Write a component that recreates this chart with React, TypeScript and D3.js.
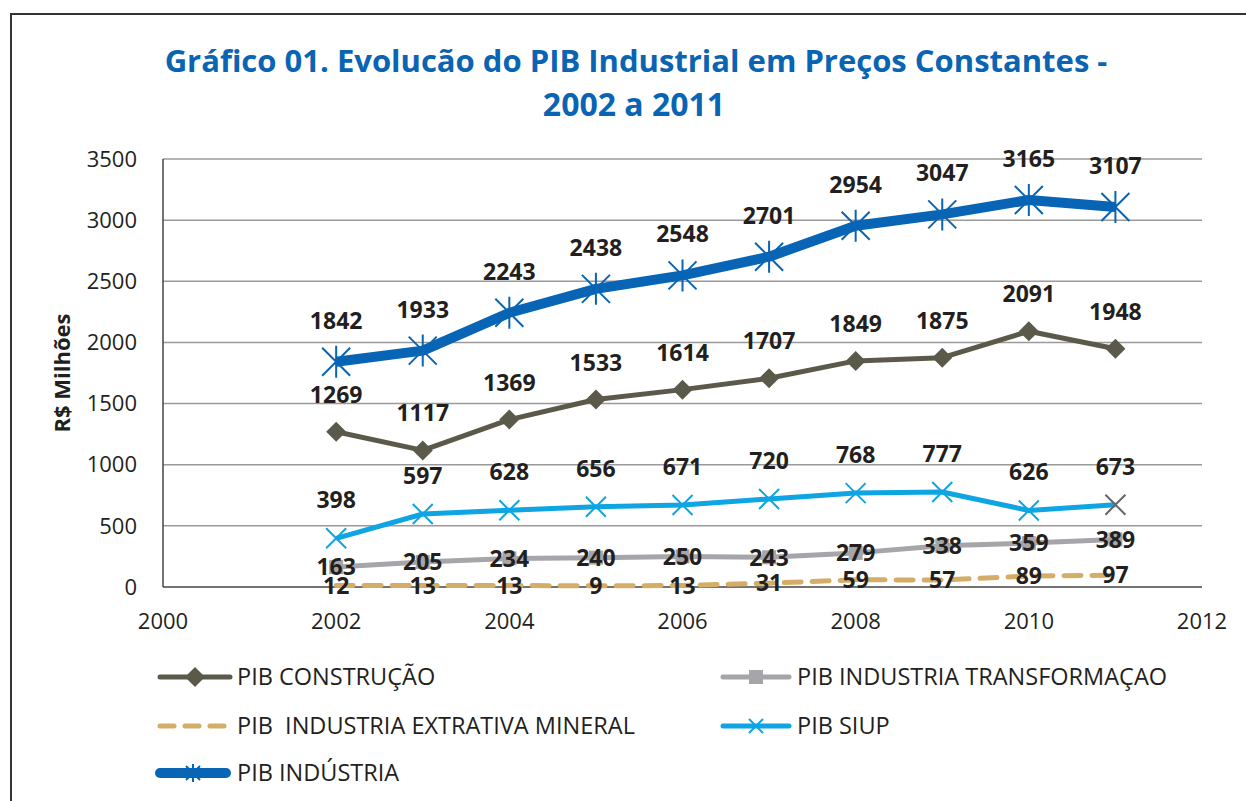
import * as d3 from 'd3'

const years = [2002, 2003, 2004, 2005, 2006, 2007, 2008, 2009, 2010, 2011]
const construcao = [1269, 1117, 1369, 1533, 1614, 1707, 1849, 1875, 2091, 1948]
const transformacao = [163, 205, 234, 240, 250, 243, 279, 338, 359, 389]
const extrativa = [12, 13, 13, 9, 13, 31, 59, 57, 89, 97]
const siup = [398, 597, 628, 656, 671, 720, 768, 777, 626, 673]
const industria = [1842, 1933, 2243, 2438, 2548, 2701, 2954, 3047, 3165, 3107]
const yTicks = [0, 500, 1000, 1500, 2000, 2500, 3000, 3500]
const xTicks = [2000, 2002, 2004, 2006, 2008, 2010, 2012]

const FONT = '"Open Sans", sans-serif'
const C_CONS = '#5b5a4a'
const C_TRANS = '#a6a6aa'
const C_EXTR = '#d4ad69'
const C_SIUP = '#0ea5e2'
const C_IND = '#0864b4'

const x = d3.scaleLinear().domain([2000, 2012]).range([163, 1202])
const y = d3.scaleLinear().domain([0, 3500]).range([587, 159])

const pts = (vals: number[]) => vals.map((v, i) => [x(years[i]), y(v)] as [number, number])
const line = d3.line<[number, number]>()

function Diamond({ cx, cy, r = 10 }: { cx: number; cy: number; r?: number }) {
  return <path d={`M${cx},${cy - r}L${cx + r},${cy}L${cx},${cy + r}L${cx - r},${cy}Z`} fill={C_CONS} />
}
function Square({ cx, cy, s = 14 }: { cx: number; cy: number; s?: number }) {
  return <rect x={cx - s / 2} y={cy - s / 2} width={s} height={s} fill={C_TRANS} />
}
function Cross({ cx, cy, r = 10, color }: { cx: number; cy: number; r?: number; color: string }) {
  return (
    <path d={`M${cx - r},${cy - r}L${cx + r},${cy + r}M${cx - r},${cy + r}L${cx + r},${cy - r}`}
      stroke={color} strokeWidth={2} fill="none" />
  )
}
function Star({ cx, cy, r = 14 }: { cx: number; cy: number; r?: number }) {
  return (
    <path d={`M${cx - r},${cy - r}L${cx + r},${cy + r}M${cx - r},${cy + r}L${cx + r},${cy - r}M${cx},${cy - r - 2}L${cx},${cy + r + 2}`}
      stroke={C_IND} strokeWidth={2} fill="none" />
  )
}

export default function App() {
  const lbl = { fontFamily: FONT, fontSize: 23, fontWeight: 700, fill: '#231f20', textAnchor: 'middle' as const }
  const legendText = { fontFamily: FONT, fontSize: 23.5, fill: '#231f20' }
  return (
    <svg width={1246} height={801} style={{ position: 'absolute', left: 0, top: 0, background: '#fff' }}>
      <rect x={11} y={14} width={1400} height={900} fill="none" stroke="#333" strokeWidth={2} />

      <text x={636} y={72} textAnchor="middle" fontFamily={FONT} fontSize={31} fontWeight={700} fill="#0a64b4">
        Gráfico 01. Evolucão do PIB Industrial em Preços Constantes -
      </text>
      <text x={634} y={116} textAnchor="middle" fontFamily={FONT} fontSize={32} fontWeight={700} fill="#0a64b4">
        2002 a 2011
      </text>

      {yTicks.map(t => (
        <g key={t}>
          {t > 0 && <line x1={x(2000)} x2={x(2012)} y1={y(t)} y2={y(t)} stroke="#9a9a9a" strokeWidth={1.5} />}
          <text x={137} y={y(t)} dy="0.35em" textAnchor="end" fontFamily={FONT} fontSize={22} fill="#231f20">{t}</text>
        </g>
      ))}
      <line x1={x(2000)} x2={x(2000)} y1={y(3500)} y2={y(0)} stroke="#444" strokeWidth={1.5} />
      <line x1={x(2000)} x2={x(2012)} y1={y(0)} y2={y(0)} stroke="#444" strokeWidth={1.5} />
      {xTicks.map(t => (
        <text key={t} x={x(t)} y={629} textAnchor="middle" fontFamily={FONT} fontSize={22} fill="#231f20">{t}</text>
      ))}
      <text transform="translate(70,373) rotate(-90)" textAnchor="middle" fontFamily={FONT} fontSize={22} fontWeight={700} fill="#231f20">
        R$ Milhões
      </text>

      {/* series */}
      <path d={line(pts(construcao)) || ''} fill="none" stroke={C_CONS} strokeWidth={5} strokeLinejoin="round" />
      {pts(construcao).map(([cx, cy], i) => <Diamond key={i} cx={cx} cy={cy} />)}

      <path d={line(pts(transformacao)) || ''} fill="none" stroke={C_TRANS} strokeWidth={5} strokeLinejoin="round" />
      {pts(transformacao).map(([cx, cy], i) => <Square key={i} cx={cx} cy={cy} />)}

      <path d={line(pts(extrativa)) || ''} fill="none" stroke={C_EXTR} strokeWidth={5} strokeDasharray="17 11" strokeLinecap="round" />

      <path d={line(pts(siup)) || ''} fill="none" stroke={C_SIUP} strokeWidth={5} strokeLinejoin="round" />
      {pts(siup).map(([cx, cy], i) => <Cross key={i} cx={cx} cy={cy} color={i === siup.length - 1 ? '#666' : C_SIUP} />)}

      <path d={line(pts(industria)) || ''} fill="none" stroke={C_IND} strokeWidth={10} strokeLinejoin="round" />
      {pts(industria).map(([cx, cy], i) => <Star key={i} cx={cx} cy={cy} />)}

      {/* data labels */}
      {pts(construcao).map(([cx, cy], i) => <text key={'c' + i} x={cx} y={cy - 29} {...lbl}>{construcao[i]}</text>)}
      {pts(transformacao).map(([cx, cy], i) => <text key={'t' + i} x={cx} y={cy} dy="0.36em" {...lbl}>{transformacao[i]}</text>)}
      {pts(extrativa).map(([cx, cy], i) => <text key={'e' + i} x={cx} y={cy} dy="0.36em" {...lbl}>{extrativa[i]}</text>)}
      {pts(siup).map(([cx, cy], i) => <text key={'s' + i} x={cx} y={cy - 30} {...lbl}>{siup[i]}</text>)}
      {pts(industria).map(([cx, cy], i) => <text key={'i' + i} x={cx} y={cy - 33} {...lbl}>{industria[i]}</text>)}

      {/* legend */}
      <g>
        <line x1={160} x2={230} y1={677} y2={677} stroke={C_CONS} strokeWidth={5} strokeLinecap="round" />
        <Diamond cx={195} cy={677} />
        <text x={237} y={677} dy="0.36em" {...legendText}>PIB CONSTRUÇÃO</text>

        <line x1={723} x2={789} y1={677} y2={677} stroke={C_TRANS} strokeWidth={5} strokeLinecap="round" />
        <Square cx={756} cy={677} />
        <text x={797} y={677} dy="0.36em" {...legendText}>PIB INDUSTRIA TRANSFORMAÇAO</text>

        <line x1={160} x2={230} y1={726} y2={726} stroke={C_EXTR} strokeWidth={5} strokeLinecap="round" strokeDasharray="14 11" />
        <text x={237} y={726} dy="0.36em" {...legendText} style={{ whiteSpace: 'pre' }}>{'PIB  INDUSTRIA EXTRATIVA MINERAL'}</text>

        <line x1={723} x2={789} y1={726} y2={726} stroke={C_SIUP} strokeWidth={5} strokeLinecap="round" />
        <Cross cx={756} cy={726} r={7} color={C_SIUP} />
        <text x={797} y={726} dy="0.36em" {...legendText}>PIB SIUP</text>

        <line x1={160} x2={226} y1={773} y2={773} stroke={C_IND} strokeWidth={10} strokeLinecap="round" />
        <Star cx={193} cy={773} r={7} />
        <text x={237} y={773} dy="0.36em" {...legendText}>PIB INDÚSTRIA</text>
      </g>
    </svg>
  )
}
